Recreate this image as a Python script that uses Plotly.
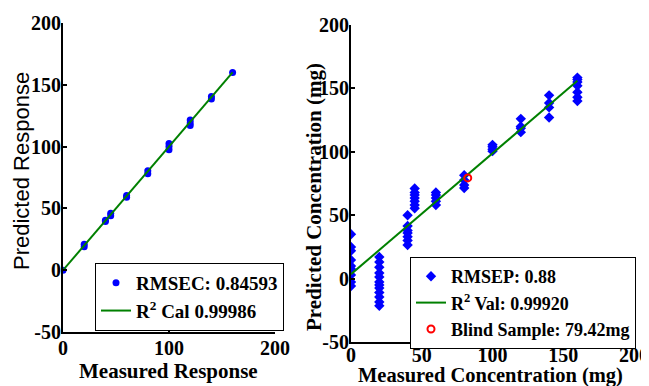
import plotly.graph_objects as go

# ---- data: calibration (left) ----
cal_measured = [0, 20, 20, 40, 40, 45, 45, 60, 60, 80, 80, 100, 100, 100, 120, 120, 120, 140, 140, 160]
cal_predicted = [0, 19, 21, 39.5, 40.5, 44, 46, 59, 60.5, 78, 80.5, 97.5, 100, 102.5, 117, 119, 121.5, 138.5, 140.5, 160]
cal_fit_x = [0, 160]
cal_fit_y = [0, 160]

# ---- data: validation (right) ----
val_groups = {
    0: [35, 25, 22, 14.7, 10, 7.6, 2.8, -2.7, -5.8],
    20: [17, 13, 9, 4.4, 1.3, -2.7, -5, -7.5, -11, -14.5, -18.5, -21.5],
    40: [50, 41.5, 38, 36, 33, 30, 26.5],
    45: [71, 68, 66, 63.5, 61, 58, 55.5],
    60: [68, 66, 63.5, 61, 58],
    80: [81.5, 77.7, 73.8, 71.4],
    100: [105.5, 104, 102, 100.5],
    120: [126, 120, 118.5, 115.5],
    140: [144.5, 138.5, 135, 127],
    160: [158.5, 157, 155, 152, 147, 143, 140],
}
val_fit_x = [0, 160]
val_fit_y = [3.5, 156]
blind_x = [82.5]
blind_y = [79.42]

x_ticks_left = [0, 100, 200]
x_ticks_right = [0, 50, 100, 150, 200]
y_ticks = [-50, 0, 50, 100, 150, 200]
y_tick_labels = ["-50", "0", "50", "100", "150", "200"]

val_measured = [k for k, vs in val_groups.items() for _ in vs]
val_predicted = [v for vs in val_groups.values() for v in vs]

SERIF = "Liberation Serif, Times New Roman, serif"
SANS = "Liberation Sans, Arial, sans-serif"
BLUE = "#0000FF"
GREEN = "#008000"

# page has an 8px body margin; figure is sized to fit the window
OFF = 8
W, H = 649 - OFF, 386 - OFF


def px(v):
    return (v - OFF) / W


def py(v):
    return 1 - (v - OFF) / H


fig = go.Figure()

fig.add_trace(go.Scatter(x=cal_measured, y=cal_predicted, mode="markers",
                         marker=dict(symbol="circle", size=7, color=BLUE),
                         name="RMSEC: 0.84593", xaxis="x", yaxis="y", legend="legend"))
fig.add_trace(go.Scatter(x=cal_fit_x, y=cal_fit_y, mode="lines",
                         line=dict(color=GREEN, width=2),
                         name="R<sup>2</sup> Cal 0.99986", xaxis="x", yaxis="y", legend="legend"))

fig.add_trace(go.Scatter(x=val_measured, y=val_predicted, mode="markers",
                         marker=dict(symbol="diamond", size=8, color=BLUE),
                         name="RMSEP: 0.88", xaxis="x2", yaxis="y2", legend="legend2"))
fig.add_trace(go.Scatter(x=val_fit_x, y=val_fit_y, mode="lines",
                         line=dict(color=GREEN, width=2),
                         name="R<sup>2</sup> Val: 0.99920", xaxis="x2", yaxis="y2", legend="legend2"))
fig.add_trace(go.Scatter(x=blind_x, y=blind_y, mode="markers",
                         marker=dict(symbol="circle-open", size=7, color="#FF0000",
                                     line=dict(width=2, color="#FF0000")),
                         name="Blind Sample: 79.42mg", xaxis="x2", yaxis="y2", legend="legend2"))

axis_common = dict(showline=True, linecolor="black", linewidth=2, ticks="inside",
                   ticklen=4, tickwidth=1.5, tickcolor="black", showgrid=False,
                   zeroline=False, mirror=False, automargin=False,
                   tickfont=dict(family=SERIF, size=20, color="black", weight="bold"))

fig.update_layout(
    width=W, height=H, margin=dict(l=0, r=0, t=0, b=0),
    paper_bgcolor="white", plot_bgcolor="white",
    xaxis=dict(domain=[px(63), px(275)], range=[0, 200], tickvals=x_ticks_left,
               anchor="y", ticklabelstandoff=-3, **axis_common),
    yaxis=dict(domain=[py(332), py(23)], range=[-50, 200], tickvals=y_ticks,
               ticktext=y_tick_labels, anchor="x", ticklabelstandoff=-4, **axis_common),
    xaxis2=dict(domain=[px(351), px(634)], range=[0, 200], tickvals=x_ticks_right,
                anchor="y2", ticklabelstandoff=-6, **axis_common),
    yaxis2=dict(domain=[py(342), py(25)], range=[-50, 200], tickvals=y_ticks,
                ticktext=y_tick_labels, anchor="x2", ticklabelstandoff=-4, **axis_common),
    legend=dict(x=px(95), y=py(263), xanchor="left", yanchor="top",
                bgcolor="white", bordercolor="black", borderwidth=1, itemwidth=30,
                font=dict(family=SERIF, size=19, color="black", weight="bold")),
    legend2=dict(x=px(410), y=py(257), xanchor="left", yanchor="top",
                 bgcolor="white", bordercolor="black", borderwidth=1, itemwidth=30,
                 font=dict(family=SERIF, size=18, color="black", weight="bold")),
    showlegend=True,
)

fig.add_annotation(text="Predicted Response", x=px(22), y=py(171), xref="paper", yref="paper",
                   textangle=-90, showarrow=False, xanchor="center", yanchor="middle",
                   font=dict(family=SANS, size=22, color="black"))
fig.add_annotation(text="Measured Response", x=px(169), y=py(371), xref="paper", yref="paper",
                   showarrow=False, xanchor="center", yanchor="middle",
                   font=dict(family=SERIF, size=21, color="black", weight="bold"))
fig.add_annotation(text="Predicted Concentration (mg)", x=px(314), y=py(197), xref="paper", yref="paper",
                   textangle=-90, showarrow=False, xanchor="center", yanchor="middle",
                   font=dict(family=SERIF, size=21, color="black", weight="bold"))
fig.add_annotation(text="Measured Concentration (mg)", x=px(490), y=py(375), xref="paper", yref="paper",
                   showarrow=False, xanchor="center", yanchor="middle",
                   font=dict(family=SERIF, size=20.5, color="black", weight="bold"))

fig.write_html("out.html")
